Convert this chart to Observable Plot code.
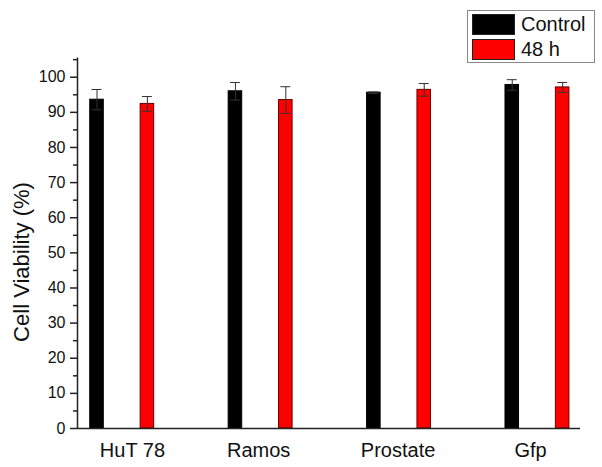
<!DOCTYPE html>
<html>
<head>
<meta charset="utf-8">
<script src="https://cdn.jsdelivr.net/npm/d3@7"></script>
<script src="https://cdn.jsdelivr.net/npm/@observablehq/plot@0.6"></script>
<style>
  html, body { margin: 0; padding: 0; background: #fff; }
  #wrap { position: relative; width: 602px; height: 467px; font-family: "Liberation Sans", Arial, sans-serif; }
  #legend { position: absolute; left: 467px; top: 10px; width: 126px; height: 51px; border: 1px solid #888; background: #fff; }
  .row { position: absolute; left: 4px; height: 22px; display: flex; align-items: center; }
  .sw { width: 43px; height: 21px; box-sizing: border-box; border: 1px solid #222; margin-right: 6px; }
  .lab { font-size: 20px; color: #111; line-height: 22px; }
  #ylabel { position: absolute; left: 22px; top: 262px; font-size: 22px; color: #111; white-space: nowrap;
            transform: translate(-50%, -50%) rotate(-90deg); }
</style>
</head>
<body>
<div id="wrap"><div id="chart"></div><div id="ylabel"></div><div id="legend"></div></div>
<script>
const categories = ["HuT 78", "Ramos", "Prostate", "Gfp"];
const series = ["Control", "48 h"];
const controlValues = [93.6, 96.0, 95.6, 97.8];
const controlErrors = [2.9, 2.5, 0.2, 1.5];
const h48Values = [92.4, 93.5, 96.4, 97.1];
const h48Errors = [2.1, 3.8, 1.8, 1.4];
const colors = ["#000000", "#ff0000"];
const yLabel = "Cell Viability (%)";
const majorTicks = [0, 10, 20, 30, 40, 50, 60, 70, 80, 90, 100];
const minorTicks = [5, 15, 25, 35, 45, 55, 65, 75, 85, 95, 105];

// layout (offsets in group units)
const offset = 0.182, half = 0.049, cap = 0.036;
const labelShift = [0.074, -0.014, -0.007, -0.05];
const xDomain = [-0.323, 3.311];

const rows = [];
categories.forEach((c, i) => {
  rows.push({cat: c, i, s: series[0], v: controlValues[i], e: controlErrors[i], pos: i - offset});
  rows.push({cat: c, i, s: series[1], v: h48Values[i], e: h48Errors[i], pos: i + offset});
});

const font = "Liberation Sans, Arial, sans-serif";
const chart = Plot.plot({
  width: 602,
  height: 467,
  marginLeft: 77,
  marginRight: 22,
  marginTop: 57.4,
  marginBottom: 39,
  style: {fontFamily: font, background: "transparent"},
  x: {domain: xDomain, axis: null},
  y: {domain: [0, 105.5], axis: null},
  color: {domain: series, range: colors},
  marks: [
    Plot.rectY(rows, {
      x1: d => d.pos - half, x2: d => d.pos + half, y1: 0, y2: "v",
      fill: "s",
      stroke: d => d.s === series[0] ? "#000" : "#6a0000",
      strokeWidth: 1
    }),
    Plot.ruleX(rows, {x: "pos", y1: d => d.v - d.e, y2: d => d.v + d.e, stroke: "#333", strokeWidth: 1}),
    Plot.ruleY(rows, {y: d => d.v + d.e, x1: d => d.pos - cap, x2: d => d.pos + cap, stroke: "#333", strokeWidth: 1}),
    Plot.ruleY(rows, {y: d => d.v - d.e, x1: d => d.pos - cap, x2: d => d.pos + cap, stroke: "#333", strokeWidth: 1}),
    Plot.ruleY([0], {stroke: "#222", strokeWidth: 1.5}),
    Plot.ruleX([xDomain[0]], {y1: 0, y2: 105.5, stroke: "#222", strokeWidth: 1.5}),
    Plot.axisY({ticks: majorTicks, tickSize: 7, tickPadding: 5, tickFormat: d => String(d),
      fontSize: 16, stroke: "#222", strokeWidth: 1.5, color: "#111", label: null}),
    Plot.axisY({ticks: minorTicks, tickSize: 4, tickFormat: () => "", stroke: "#222", strokeWidth: 1.5, label: null}),
    Plot.text(categories, {x: (d, i) => i + labelShift[i], y: 0, text: d => d, lineAnchor: "top", dy: 14,
      fontSize: 20, fill: "#111"})
  ]
});
document.getElementById("chart").appendChild(chart);
document.getElementById("ylabel").textContent = yLabel;

const legend = document.getElementById("legend");
series.forEach((s, k) => {
  const row = document.createElement("div");
  row.className = "row";
  row.style.top = (2 + k * 25) + "px";
  const sw = document.createElement("div");
  sw.className = "sw";
  sw.style.background = colors[k];
  const lab = document.createElement("span");
  lab.className = "lab";
  lab.textContent = s;
  row.appendChild(sw); row.appendChild(lab);
  legend.appendChild(row);
});
</script>
</body>
</html>
